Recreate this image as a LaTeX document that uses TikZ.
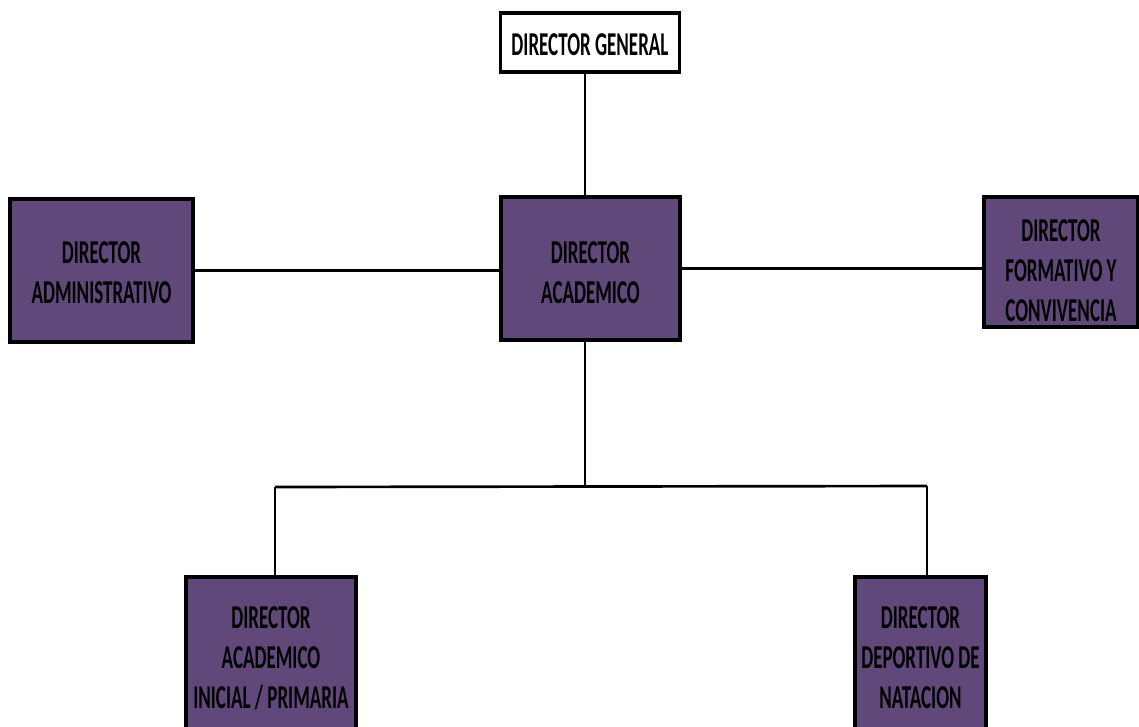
\documentclass[tikz,border=0pt]{standalone}
\usepackage{fontspec}
\newfontfamily\orgfont[FakeStretch=0.57]{Carlito}
\definecolor{orgpurple}{RGB}{96,73,122}
\newcommand\capstrut[1]{\rule{0pt}{#1}}
\tikzset{
  orgbox/.style={draw=black, line width=2.6pt, fill=orgpurple, align=center, inner sep=0pt,
    font={\orgfont\bfseries\fontsize{25}{30}\selectfont}},
  topbox/.style={orgbox, fill=white},
  link/.style={draw=black, line width=2pt}
}
\begin{document}
\begin{tikzpicture}[x=0.75pt,y=0.75pt,yscale=-1,xscale=1]
\useasboundingbox (0,0) rectangle (1139,726);
\clip (0,0) rectangle (1139,726);

%Shape: Rectangle [DIRECTOR GENERAL]
\node [topbox, minimum width=134pt, minimum height=44pt] (gen) at (590,42.5) {\capstrut{19pt}DIRECTOR GENERAL};
%Shape: Rectangle [DIRECTOR ACADEMICO]
\node [orgbox, minimum width=134pt, minimum height=107pt] (acad) at (590.5,268.5) {\capstrut{23pt}DIRECTOR\\ACADEMICO};
%Shape: Rectangle [DIRECTOR ADMINISTRATIVO]
\node [orgbox, minimum width=137pt, minimum height=107pt] (admin) at (101.5,270.5) {\capstrut{20pt}DIRECTOR\\ADMINISTRATIVO};
%Shape: Rectangle [DIRECTOR FORMATIVO]
\node [orgbox, minimum width=115.5pt, minimum height=97.5pt] (form) at (1061,262) {\capstrut{30pt}DIRECTOR\\FORMATIVO Y\\CONVIVENCIA};
%Shape: Rectangle [INICIAL / PRIMARIA]
\node [orgbox, minimum width=127.5pt, minimum height=121.5pt] (inicial) at (271,658) {DIRECTOR\\ACADEMICO\\INICIAL / PRIMARIA};
%Shape: Rectangle [NATACION]
\node [orgbox, minimum width=98pt, minimum height=121.5pt] (natacion) at (920.5,658) {DIRECTOR\\DEPORTIVO DE\\NATACION};

%Bus coordinates
\coordinate (jn) at (585,486);
\coordinate (bl) at (275,487);
\coordinate (br) at (927,486);

%Straight Lines
\draw [link] (jn |- gen.south) -- (jn |- acad.north);
%Straight Lines
\draw [link] (admin.east) -- (admin.east -| acad.west);
%Straight Lines
\draw [link] (acad.east) -- (acad.east -| form.west);
%Straight Lines
\draw [link] (jn |- acad.south) -- (jn);
%Straight Lines
\draw [link] (bl) -- (br);
%Straight Lines
\draw [link] (bl) -- (bl |- inicial.north);
%Straight Lines
\draw [link] (br) -- (br |- natacion.north);

\end{tikzpicture}
\end{document}
